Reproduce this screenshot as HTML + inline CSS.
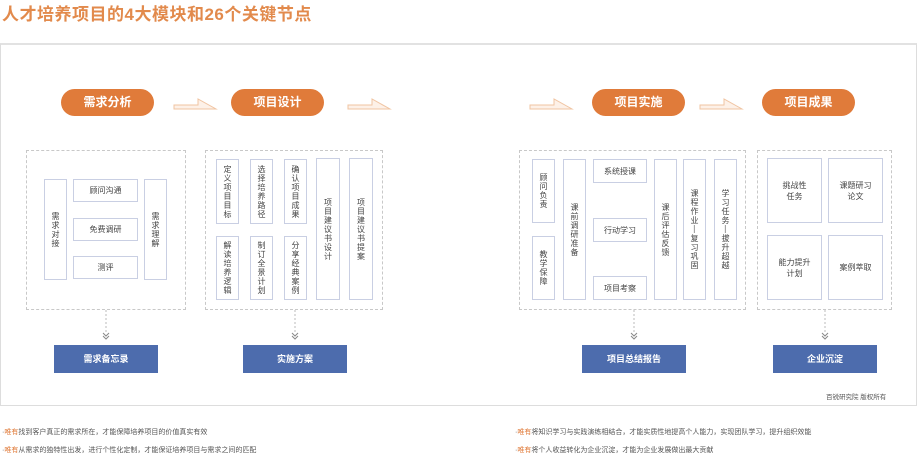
<!DOCTYPE html>
<html><head><meta charset="utf-8"><style>
*{margin:0;padding:0;box-sizing:border-box}
body{width:918px;height:454px;background:#fff;position:relative;overflow:hidden;font-family:"Liberation Sans","Noto Sans CJK SC",sans-serif;color:#444}
.a{position:absolute}
.t{left:2px;top:0px;font-size:17px;font-weight:bold;color:#e28a4c;letter-spacing:0.5px}
.frame{left:0;top:43px;width:917px;height:363px;border:1px solid #ddd;border-top:2px solid #e2e2e2}
.pill{height:27px;width:93px;border-radius:14px;background:#e07b3a;color:#fff;font-weight:bold;font-size:12px;text-align:center;line-height:27px}
.dash{border:1px dashed #c8c8c8}
.b{border:1.5px solid #c9cfe3;font-size:8px;color:#444;display:flex;align-items:center;justify-content:center;text-align:center;line-height:11px}
.v{writing-mode:vertical-rl;letter-spacing:1px}
.blue{background:#4d6cad;color:#fff;font-size:9px;font-weight:bold;width:104px;height:28px;line-height:28px;text-align:center}
.dl{width:0;border-left:1px dashed #bbb;height:22px}
.ch{font-size:8px;color:#888;width:10px;text-align:center}
.n{font-size:7px;color:#555}
.n b{color:#e07b3a;font-weight:normal}
</style></head><body>
<div class="a t">人才培养项目的4大模块和26个关键节点</div>
<div class="a frame"></div>

<div class="a pill" style="left:61px;top:89px">需求分析</div>
<div class="a pill" style="left:231px;top:89px">项目设计</div>
<div class="a pill" style="left:592px;top:89px">项目实施</div>
<div class="a pill" style="left:762px;top:89px">项目成果</div>

<svg class="a" style="left:0;top:0" width="918" height="454">
<g fill="#fdf1e8" stroke="#f0c4a2" stroke-width="1">
<path d="M174 105 L198 105 L198 99 L216 109 L174 109 Z"/>
<path d="M348 105 L372 105 L372 99 L390 109 L348 109 Z"/>
<path d="M530 105 L554 105 L554 99 L572 109 L530 109 Z"/>
<path d="M700 105 L724 105 L724 99 L742 109 L700 109 Z"/>
</g>
<g stroke="#bbb" stroke-dasharray="2,2">
<line x1="106" y1="310" x2="106" y2="332"/><line x1="295" y1="310" x2="295" y2="332"/>
<line x1="634" y1="310" x2="634" y2="332"/><line x1="825" y1="310" x2="825" y2="332"/>
</g>
<g fill="none" stroke="#888" stroke-width="1">
<path d="M103 333 l3 3 l3 -3 M103 336 l3 3 l3 -3"/>
<path d="M292 333 l3 3 l3 -3 M292 336 l3 3 l3 -3"/>
<path d="M631 333 l3 3 l3 -3 M631 336 l3 3 l3 -3"/>
<path d="M822 333 l3 3 l3 -3 M822 336 l3 3 l3 -3"/>
</g>
</svg>

<div class="a dash" style="left:26px;top:150px;width:160px;height:160px"></div>
<div class="a dash" style="left:205px;top:150px;width:178px;height:160px"></div>
<div class="a dash" style="left:519px;top:150px;width:227px;height:160px"></div>
<div class="a dash" style="left:757px;top:150px;width:135px;height:160px"></div>

<div class="a b v" style="left:44px;top:179px;width:23px;height:101px">需求对接</div>
<div class="a b" style="left:73px;top:179px;width:65px;height:23px">顾问沟通</div>
<div class="a b" style="left:73px;top:218px;width:65px;height:23px">免费调研</div>
<div class="a b" style="left:73px;top:256px;width:65px;height:23px">测评</div>
<div class="a b v" style="left:144px;top:179px;width:23px;height:101px">需求理解</div>

<div class="a b v" style="left:216px;top:159px;width:23px;height:65px">定义项目目标</div>
<div class="a b v" style="left:216px;top:236px;width:23px;height:64px">解读培养逻辑</div>
<div class="a b v" style="left:250px;top:159px;width:23px;height:65px">选择培养路径</div>
<div class="a b v" style="left:250px;top:236px;width:23px;height:64px">制订全景计划</div>
<div class="a b v" style="left:284px;top:159px;width:23px;height:65px">确认项目成果</div>
<div class="a b v" style="left:284px;top:236px;width:23px;height:64px">分享经典案例</div>
<div class="a b v" style="left:316px;top:158px;width:24px;height:142px">项目建议书设计</div>
<div class="a b v" style="left:349px;top:158px;width:24px;height:142px">项目建议书提案</div>

<div class="a b v" style="left:532px;top:159px;width:23px;height:64px">顾问负责</div>
<div class="a b v" style="left:532px;top:236px;width:23px;height:64px">教学保障</div>
<div class="a b v" style="left:563px;top:159px;width:23px;height:141px">课前调研准备</div>
<div class="a b" style="left:593px;top:159px;width:54px;height:24px">系统授课</div>
<div class="a b" style="left:593px;top:218px;width:54px;height:24px">行动学习</div>
<div class="a b" style="left:593px;top:276px;width:54px;height:24px">项目考察</div>
<div class="a b v" style="left:654px;top:159px;width:23px;height:141px">课后评估反馈</div>
<div class="a b v" style="left:683px;top:159px;width:23px;height:141px">课程作业—复习巩固</div>
<div class="a b v" style="left:714px;top:159px;width:23px;height:141px">学习任务—拔升超越</div>

<div class="a b" style="left:767px;top:158px;width:55px;height:65px">挑战性<br>任务</div>
<div class="a b" style="left:828px;top:158px;width:55px;height:65px">课题研习<br>论文</div>
<div class="a b" style="left:767px;top:235px;width:55px;height:65px">能力提升<br>计划</div>
<div class="a b" style="left:828px;top:235px;width:55px;height:65px">案例萃取</div>

<div class="a blue" style="left:54px;top:345px">需求备忘录</div>
<div class="a blue" style="left:243px;top:345px">实施方案</div>
<div class="a blue" style="left:582px;top:345px">项目总结报告</div>
<div class="a blue" style="left:773px;top:345px">企业沉淀</div>

<div class="a n" style="left:826px;top:391px;font-size:6.5px">百锐研究院 版权所有</div>
<div class="a n" style="left:2px;top:427px">·<b>唯有</b>找到客户真正的需求所在，才能保障培养项目的价值真实有效</div>
<div class="a n" style="left:2px;top:445px">·<b>唯有</b>从需求的独特性出发，进行个性化定制，才能保证培养项目与需求之间的匹配</div>
<div class="a n" style="left:515px;top:427px">·<b>唯有</b>将知识学习与实践演练相结合，才能实质性地提高个人能力，实现团队学习，提升组织效能</div>
<div class="a n" style="left:515px;top:445px">·<b>唯有</b>将个人收益转化为企业沉淀，才能为企业发展做出最大贡献</div>
</body></html>
